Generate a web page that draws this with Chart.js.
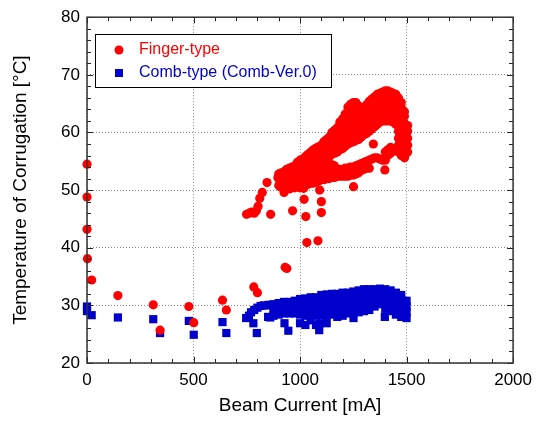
<!DOCTYPE html>
<html>
<head>
<meta charset="utf-8">
<script src="https://cdn.jsdelivr.net/npm/chart.js@4.4.0/dist/chart.umd.min.js"></script>
<style>
  html, body { margin: 0; padding: 0; background: #fff; }
  #myChart { display: block; }
</style>
</head>
<body>
<canvas id="myChart" width="539" height="421"></canvas>
<script>
const xTicks = [0, 500, 1000, 1500, 2000];
const yTicks = [20, 30, 40, 50, 60, 70, 80];
const seriesNames = ['Finger-type', 'Comb-type (Comb-Ver.0)'];

// finger-type, isolated points [mA, degC]
const fingerScatter = [
  [0, 54.5], [0, 48.8], [0, 43.2], [2, 38.1], [22, 34.4], [145, 31.7], [311, 30.1],
  [343, 25.7], [478, 29.8], [501, 27.0], [636, 30.9], [654, 29.2], [783, 33.2], [800, 32.2],
  [749, 45.8], [762, 46.0], [772, 46.2], [785, 46.0], [795, 46.4], [803, 47.2], [811, 48.6],
  [823, 49.6], [845, 51.3], [862, 45.8], [896, 52.2], [907, 50.6], [925, 49.6],
  [965, 46.4], [1027, 45.4], [1019, 48.4], [1017, 50.3], [1100, 48.0], [1100, 46.1], [1092, 50.0],
  [1032, 40.9], [1084, 41.2], [930, 36.6], [938, 36.4], [1251, 50.6], [1398, 53.5],
  [1344, 58.0], [1491, 55.8]
];
// finger-type, dense part: [mA, [degC...]]
const fingerBand = [
  [900, [50.8, 52.0, 52.8]],
  [912, [51.2, 52.4, 53.0]],
  [925, [50.0, 51.2, 52.4, 53.2]],
  [937, [50.6, 51.8, 53.0, 53.6]],
  [950, [50.2, 51.4, 52.6, 53.8]],
  [962, [50.6, 51.8, 53.0, 54.0]],
  [975, [50.4, 51.6, 52.8, 54.2]],
  [987, [50.6, 51.8, 53.0, 54.2, 54.8]],
  [1000, [50.4, 51.6, 52.8, 54.0, 55.2]],
  [1012, [50.8, 52.0, 53.2, 54.4, 55.4]],
  [1025, [50.8, 52.0, 53.2, 54.4, 55.8]],
  [1037, [51.0, 52.2, 53.4, 54.6, 55.8, 56.2]],
  [1050, [51.2, 52.4, 53.6, 54.8, 56.0, 56.6]],
  [1062, [51.2, 52.4, 53.6, 54.8, 56.0, 57.0]],
  [1075, [51.4, 52.6, 53.8, 55.0, 56.2, 57.3]],
  [1087, [51.6, 52.8, 54.0, 55.2, 56.4, 57.5]],
  [1100, [51.8, 53.0, 54.2, 55.4, 56.6, 57.8]],
  [1112, [51.8, 53.0, 54.2, 55.4, 56.6, 57.8, 58.4]],
  [1125, [52.0, 53.2, 54.4, 55.6, 56.8, 58.0, 58.8]],
  [1137, [52.0, 53.2, 54.6, 55.8, 57.0, 58.2, 59.2]],
  [1150, [52.2, 53.4, 54.4, 56.2, 57.4, 58.6, 59.6, 60.0]],
  [1162, [52.2, 53.4, 54.2, 56.4, 57.6, 58.8, 59.8, 60.4]],
  [1175, [52.4, 53.6, 56.6, 57.8, 59.0, 60.0, 60.8]],
  [1187, [52.4, 53.6, 57.0, 58.2, 59.4, 60.6, 61.4, 61.8]],
  [1200, [52.4, 53.6, 57.2, 58.4, 59.6, 60.8, 61.8, 62.4]],
  [1212, [52.4, 53.8, 57.6, 58.8, 60.0, 61.2, 62.4, 63.2]],
  [1225, [52.4, 53.8, 58.0, 59.2, 60.4, 61.6, 62.8, 63.8, 64.4]],
  [1237, [52.6, 54.0, 58.2, 59.4, 60.6, 61.8, 63.0, 64.2, 64.9]],
  [1250, [52.6, 54.0, 58.4, 59.6, 60.8, 62.0, 63.2, 64.4, 65.2]],
  [1262, [52.8, 54.2, 58.6, 59.8, 61.0, 62.2, 63.4, 64.6, 65.2]],
  [1275, [53.0, 54.4, 58.8, 60.0, 61.2, 62.4, 63.6, 64.6]],
  [1287, [53.4, 54.6, 59.2, 60.4, 61.6, 62.8, 63.8, 64.2]],
  [1300, [53.6, 54.8, 59.6, 60.8, 62.0, 63.2, 64.0]],
  [1312, [53.8, 55.0, 59.8, 61.0, 62.2, 63.4, 64.4, 64.8]],
  [1325, [53.8, 55.2, 60.2, 61.4, 62.6, 63.8, 65.0, 65.4]],
  [1337, [55.4, 60.6, 61.8, 63.0, 64.2, 65.4, 65.8]],
  [1350, [55.6, 61.0, 62.2, 63.4, 64.6, 65.6, 66.2]],
  [1362, [55.6, 61.4, 62.6, 63.8, 65.0, 66.2, 66.6]],
  [1375, [55.4, 61.8, 63.0, 64.2, 65.4, 66.6, 66.8]],
  [1387, [55.2, 62.0, 63.2, 64.4, 65.6, 66.8, 67.0]],
  [1400, [55.2, 56.6, 62.0, 63.2, 64.4, 65.6, 66.6, 67.2]],
  [1412, [56.0, 57.0, 62.0, 63.2, 64.4, 65.6, 66.6, 67.2]],
  [1425, [56.4, 57.4, 62.0, 63.2, 64.4, 65.6, 66.6, 67.0]],
  [1437, [57.0, 61.8, 63.0, 64.2, 65.4, 66.4, 66.8]],
  [1450, [57.0, 61.4, 62.6, 63.8, 65.0, 66.0, 66.6]],
  [1462, [56.6, 57.8, 59.0, 60.2, 61.4, 62.6, 63.8, 65.0, 66.0]],
  [1475, [56.0, 57.2, 58.4, 59.6, 60.8, 62.0, 63.2, 64.4, 65.2]],
  [1490, [55.6, 56.8, 58.0, 59.2, 60.4, 61.6, 62.8, 63.6]],
  [1505, [56.6, 57.8, 59.0, 60.2, 61.2]]
];

// comb-type, isolated points
const combScatter = [
  [0, 29.8], [0, 29.0], [22, 28.3], [145, 27.9], [311, 27.6], [343, 25.2], [478, 27.3],
  [501, 24.9], [636, 27.1], [654, 25.2], [747, 27.8], [760, 28.2], [770, 28.8], [781, 26.9],
  [785, 29.2], [797, 25.2], [800, 29.6], [815, 29.9], [830, 30.0], [855, 30.1], [860, 27.9],
  [927, 26.9], [945, 25.6], [1090, 25.7], [1090, 26.8], [1251, 27.8], [1398, 28.0]
];
// comb-type, dense part
const combBand = [
  [850, [28.0, 30.0]],
  [875, [28.2, 29.2, 30.2]],
  [900, [28.4, 29.4, 30.4]],
  [925, [28.6, 29.6, 30.6]],
  [950, [28.6, 29.6, 30.6]],
  [975, [28.6, 29.6, 30.8]],
  [1000, [26.9, 28.4, 29.4, 30.4, 31.1]],
  [1025, [26.6, 28.2, 29.2, 30.2, 31.2]],
  [1050, [27.4, 28.4, 29.4, 30.4, 31.4]],
  [1075, [26.6, 28.2, 29.2, 30.2, 31.4]],
  [1100, [28.2, 29.2, 30.2, 31.2, 31.8]],
  [1125, [26.9, 28.2, 29.2, 30.2, 31.2, 31.9]],
  [1150, [28.4, 29.4, 30.4, 31.4, 32.0]],
  [1175, [28.0, 29.0, 30.0, 31.0, 32.0]],
  [1200, [28.2, 29.2, 30.2, 31.2, 32.2]],
  [1225, [28.6, 29.6, 30.6, 31.6, 32.2]],
  [1250, [28.8, 29.8, 30.8, 31.8, 32.4]],
  [1275, [28.8, 29.8, 30.8, 31.8, 32.6]],
  [1300, [29.0, 30.0, 31.0, 32.0, 32.8]],
  [1325, [29.2, 30.2, 31.2, 32.2, 32.8]],
  [1350, [29.8, 30.8, 31.8, 32.8]],
  [1375, [30.2, 31.2, 32.2, 32.9]],
  [1400, [29.4, 30.4, 31.4, 32.4, 32.8]],
  [1425, [29.0, 30.0, 31.0, 32.0, 32.6]],
  [1450, [28.4, 29.4, 30.4, 31.4, 32.2]],
  [1475, [28.0, 29.0, 30.0, 31.0, 31.8]],
  [1500, [27.8, 28.8, 29.8, 30.8]]
];

const RED = 'rgb(255,0,0)';
const BLUE = 'rgb(0,0,204)';
const FONT = '"Liberation Sans", Arial, sans-serif';

function toPoints(single, cols) {
  const pts = single.map(p => ({ x: p[0], y: p[1] }));
  cols.forEach(c => c[1].forEach(v => pts.push({ x: c[0], y: v })));
  return pts;
}

// inward ticks, frame and the boxed legend
const frame = {
  id: 'frame',
  afterDatasetsDraw(chart) {
    const { ctx, chartArea: a, scales: { x, y } } = chart;
    ctx.save();
    ctx.strokeStyle = '#222';
    ctx.lineWidth = 1;
    ctx.beginPath();
    for (let v = 0; v <= 2000; v += 100) {
      const px = Math.round(x.getPixelForValue(v)) + 0.5;
      const len = v % 500 === 0 ? 6 : 4;
      ctx.moveTo(px, a.bottom); ctx.lineTo(px, a.bottom - len);
      ctx.moveTo(px, a.top); ctx.lineTo(px, a.top + len);
    }
    for (let v = 20; v <= 80; v += 2) {
      const py = Math.round(y.getPixelForValue(v)) + 0.5;
      const len = v % 10 === 0 ? 6 : 4;
      ctx.moveTo(a.left, py); ctx.lineTo(a.left + len, py);
      ctx.moveTo(a.right, py); ctx.lineTo(a.right - len, py);
    }
    ctx.stroke();
    ctx.lineWidth = 1.5;
    ctx.strokeStyle = '#333';
    ctx.strokeRect(a.left, a.top, a.right - a.left, a.bottom - a.top);
    ctx.restore();
  },
  afterDraw(chart) {
    const { ctx } = chart;
    ctx.save();
    ctx.fillStyle = '#fff';
    ctx.fillRect(95, 34, 236, 53);
    ctx.strokeStyle = '#000';
    ctx.lineWidth = 1;
    ctx.strokeRect(95.5, 34.5, 236, 53);
    ctx.font = '16px ' + FONT;
    ctx.textBaseline = 'middle';
    chart.data.datasets.forEach((ds, i) => {
      const cy = 50 + i * 23;
      ctx.fillStyle = ds.backgroundColor;
      if (ds.pointStyle === 'rect') {
        ctx.fillRect(115, cy - 4, 8, 8);
      } else {
        ctx.beginPath();
        ctx.arc(119, cy, 4.5, 0, Math.PI * 2);
        ctx.fill();
      }
      ctx.fillText(ds.label, 139, cy);
    });
    ctx.restore();
  }
};

const ctx = document.getElementById('myChart');

new Chart(ctx, {
  type: 'scatter',
  data: {
    datasets: [{
      label: seriesNames[0],
      data: toPoints(fingerScatter, fingerBand),
      backgroundColor: RED,
      borderColor: RED,
      borderWidth: 0,
      pointStyle: 'circle',
      pointRadius: 4.6,
      clip: false
    }, {
      label: seriesNames[1],
      data: toPoints(combScatter, combBand),
      backgroundColor: BLUE,
      borderColor: BLUE,
      borderWidth: 0,
      pointStyle: 'rect',
      pointRadius: 5.8,
      clip: false
    }]
  },
  options: {
    responsive: false,
    animation: false,
    events: [],
    layout: { padding: { top: 17, right: 21, left: 0, bottom: 0 } },
    plugins: { legend: { display: false }, tooltip: { enabled: false } },
    scales: {
      x: {
        type: 'linear',
        min: 0,
        max: 2000,
        afterBuildTicks: s => { s.ticks = xTicks.map(v => ({ value: v })); },
        afterFit: s => { s.height = 58; },
        grid: { color: '#8a8a8a', lineWidth: 1, drawTicks: false },
        border: { display: false, dash: [1, 2] },
        ticks: { color: '#000', padding: 7, callback: v => String(v), font: { size: 17, family: FONT } },
        title: {
          display: true,
          text: 'Beam Current [mA]',
          color: '#000',
          padding: { top: 0, bottom: 4 },
          font: { size: 19, family: FONT }
        }
      },
      y: {
        type: 'linear',
        min: 20,
        max: 80,
        afterBuildTicks: s => { s.ticks = yTicks.map(v => ({ value: v })); },
        afterFit: s => { s.width = 87; },
        grid: { color: '#8a8a8a', lineWidth: 1, drawTicks: false },
        border: { display: false, dash: [1, 2] },
        ticks: { color: '#000', padding: 7, callback: v => String(v), font: { size: 17, family: FONT } },
        title: {
          display: true,
          text: 'Temperature of Corrugation [°C]',
          color: '#000',
          padding: { top: 9, bottom: 0 },
          font: { size: 19, family: FONT }
        }
      }
    }
  },
  plugins: [frame]
});
</script>
</body>
</html>
